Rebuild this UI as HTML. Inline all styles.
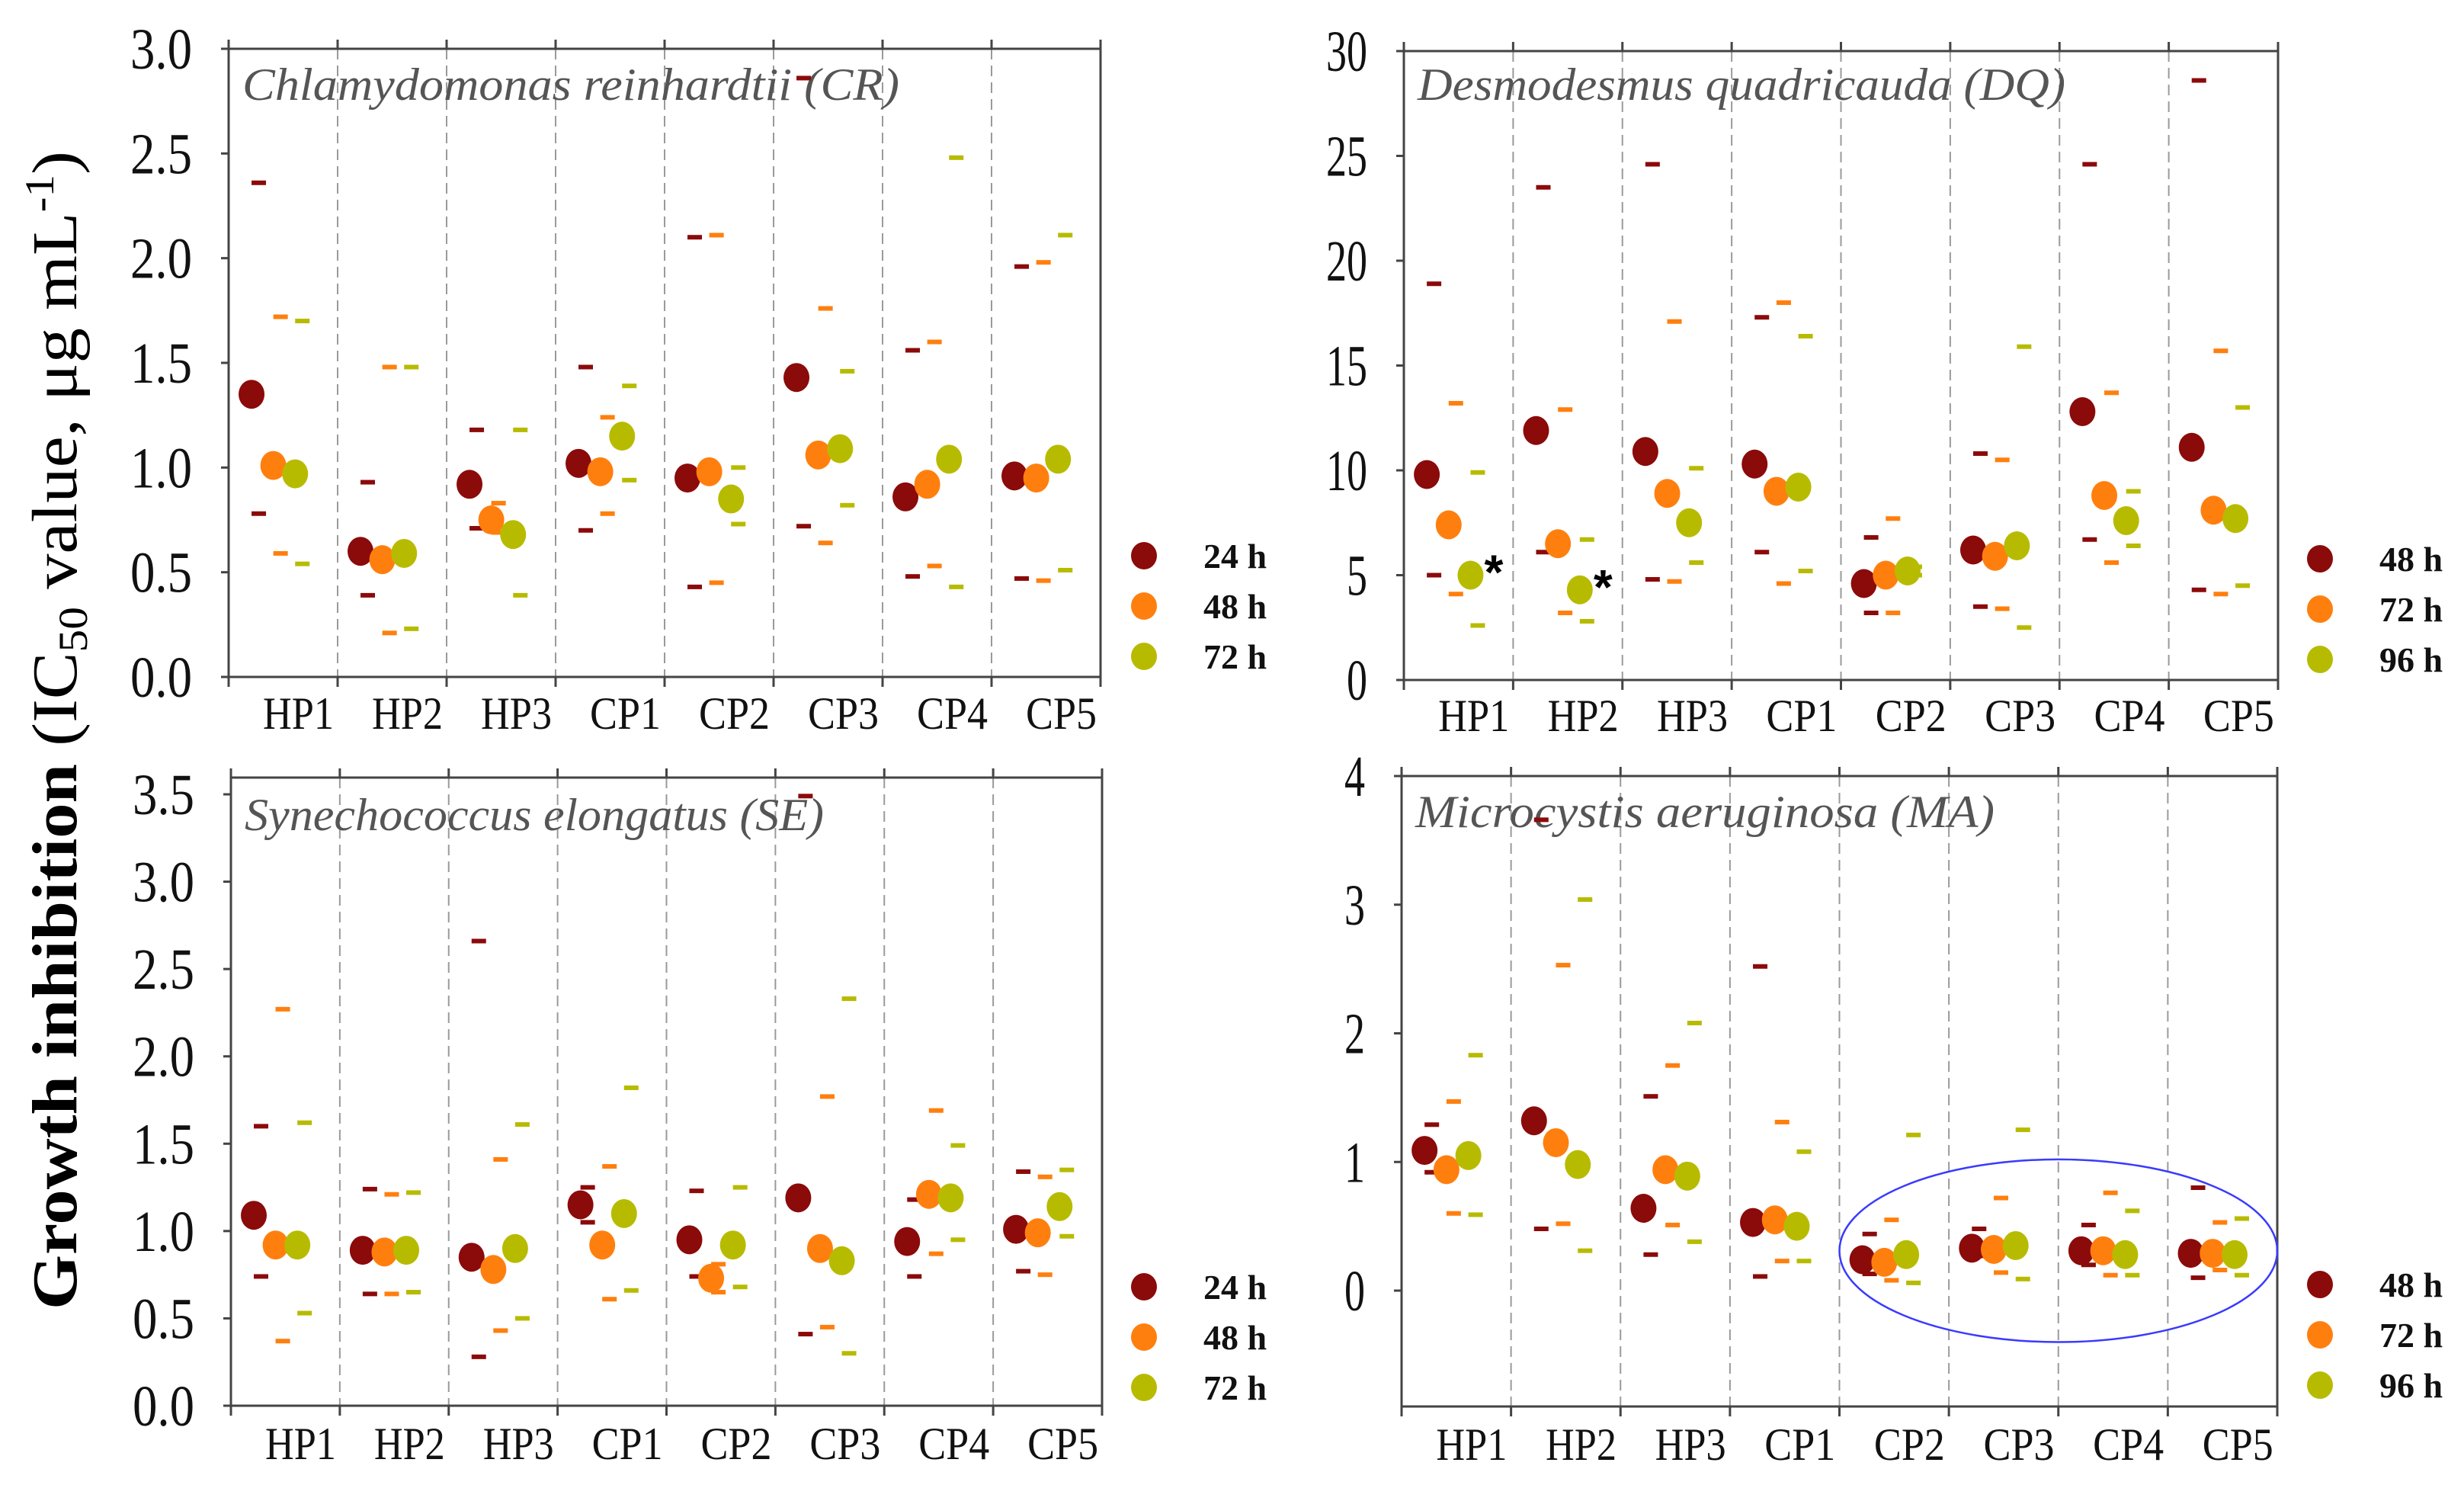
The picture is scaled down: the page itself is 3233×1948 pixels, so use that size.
<!DOCTYPE html>
<html><head><meta charset="utf-8"><style>
html,body{margin:0;padding:0;background:#fff;}
svg{display:block;}
</style></head><body>
<svg id="fig" xmlns="http://www.w3.org/2000/svg" width="3233" height="1948" viewBox="0 0 3233 1948">
<rect x="0" y="0" width="3233" height="1948" fill="#fff"/>
<text transform="translate(100,958) rotate(-90)" text-anchor="middle" font-family="Liberation Serif, serif" font-size="84" fill="#000" textLength="1520" lengthAdjust="spacingAndGlyphs"><tspan font-weight="bold">Growth inhibition </tspan><tspan>(IC</tspan><tspan font-size="54" dy="14">50</tspan><tspan dy="-14"> value, μg mL</tspan><tspan font-size="54" dy="-30">-1</tspan><tspan dy="30">)</tspan></text>
</svg>
<script>
const categories = ["HP1","HP2","HP3","CP1","CP2","CP3","CP4","CP5"];
// CR panel (24,48,72 h)
const crMean = [[1.35,0.60,0.92,1.02,0.95,1.43,0.86,0.96],[1.01,0.56,0.75,0.98,0.98,1.06,0.92,0.95],[0.97,0.59,0.68,1.15,0.85,1.09,1.04,1.04]];
const crHigh = [[2.36,0.93,1.18,1.48,2.10,2.86,1.56,1.96],[1.72,1.48,0.83,1.24,2.11,1.76,1.60,1.98],[1.70,1.48,1.18,1.39,1.00,1.46,2.48,2.11]];
const crLow  = [[0.78,0.39,0.71,0.70,0.43,0.72,0.48,0.47],[0.59,0.21,0.69,0.78,0.45,0.64,0.53,0.46],[0.54,0.23,0.39,0.94,0.73,0.82,0.43,0.51]];
const crTicks = ["0.0","0.5","1.0","1.5","2.0","2.5","3.0"];
const crLegend = ["24 h","48 h","72 h"];
// DQ panel (48,72,96 h)
const dqMean = [[9.8,11.9,10.9,10.3,4.6,6.2,12.8,11.1],[7.4,6.5,8.9,9.0,5.0,5.9,8.8,8.1],[5.0,4.3,7.5,9.2,5.2,6.4,7.6,7.7]];
const dqHigh = [[18.9,23.5,24.6,17.3,6.8,10.8,24.6,28.6],[13.2,12.9,17.1,18.0,7.7,10.5,13.7,15.7],[9.9,6.7,10.1,16.4,5.4,15.9,9.0,13.0]];
const dqLow  = [[5.0,6.1,4.8,6.1,3.2,3.5,6.7,4.3],[4.1,3.2,4.7,4.6,3.2,3.4,5.6,4.1],[2.6,2.8,5.6,5.2,5.0,2.5,6.4,4.5]];
const dqTicks = ["0","5","10","15","20","25","30"];
const dqLegend = ["48 h","72 h","96 h"];
// SE panel (24,48,72 h)
const seMean = [[1.09,0.89,0.85,1.15,0.95,1.19,0.94,1.01],[0.92,0.88,0.78,0.92,0.73,0.90,1.21,0.99],[0.92,0.89,0.90,1.10,0.92,0.83,1.19,1.14]];
const seHigh = [[1.60,1.24,2.66,1.25,1.23,3.49,1.18,1.34],[2.27,1.21,1.41,1.37,0.81,1.77,1.69,1.31],[1.62,1.22,1.61,1.82,1.25,2.33,1.49,1.35]];
const seLow  = [[0.74,0.64,0.28,1.05,0.74,0.41,0.74,0.77],[0.37,0.64,0.43,0.61,0.65,0.45,0.87,0.75],[0.53,0.65,0.50,0.66,0.68,0.30,0.95,0.97]];
const seTicks = ["0.0","0.5","1.0","1.5","2.0","2.5","3.0","3.5"];
const seLegend = ["24 h","48 h","72 h"];
// MA panel (48,72,96 h)
const maMean = [[1.09,1.32,0.64,0.53,0.24,0.33,0.31,0.29],[0.94,1.15,0.94,0.55,0.22,0.32,0.31,0.29],[1.05,0.98,0.89,0.50,0.28,0.35,0.28,0.28]];
const maHigh = [[1.29,3.66,1.51,2.52,0.44,0.48,0.51,0.80],[1.47,2.53,1.75,1.31,0.55,0.72,0.76,0.53],[1.83,3.04,2.08,1.08,1.21,1.25,0.62,0.56]];
const maLow  = [[0.92,0.48,0.28,0.11,0.13,0.27,0.20,0.10],[0.60,0.52,0.51,0.23,0.08,0.14,0.12,0.16],[0.59,0.31,0.38,0.23,0.06,0.09,0.12,0.12]];
const maTicks = ["0","1","2","3","4"];
const maLegend = ["48 h","72 h","96 h"];

const colors = ["#8b0a0a","#ff7f0e","#b7bb00"];
const NS = "http://www.w3.org/2000/svg";
const svg = document.getElementById("fig");
function mk(tag, attrs, parent){ const e=document.createElementNS(NS,tag); for(const k in attrs) e.setAttribute(k,attrs[k]); (parent||svg).appendChild(e); return e; }

function panel(cfg){
  const g = mk("g",{});
  
  
  const y = v => cfg.y0 - (v - 0) * (cfg.y0 - cfg.yTop) / cfg.vTop;
  const w = (cfg.right - cfg.left) / categories.length;
  const xs = i => cfg.left + i * w;
  for(let i=1;i<categories.length;i++){
    const d = mk("line",{x1:xs(i),x2:xs(i),y1:cfg.frameTop,y2:cfg.bottom,stroke:"#9a9a9a","stroke-width":2,"stroke-dasharray":"14,8"},g);
    
    
  }
  for(let i=0;i<=categories.length;i++){
    mk("line",{x1:xs(i),x2:xs(i),y1:cfg.bottom,y2:cfg.bottom+13,stroke:"#444","stroke-width":3},g);
    mk("line",{x1:xs(i),x2:xs(i),y1:cfg.frameTop-12,y2:cfg.frameTop,stroke:"#444","stroke-width":3},g);
  }
  const fr = mk("rect",{x:cfg.left,y:cfg.frameTop,width:cfg.right-cfg.left,height:cfg.bottom-cfg.frameTop,fill:"none",stroke:"#444","stroke-width":3},g);
  
  
  cfg.ticks.forEach((t,i)=>{
    const v = parseFloat(t);
    mk("line",{x1:cfg.left-10,x2:cfg.left,y1:y(v),y2:y(v),stroke:"#444","stroke-width":3},g);
    const tx = mk("text",{x:cfg.left-48,y:y(v)+26,"text-anchor":"end","font-family":"Liberation Serif, serif","font-size":76,fill:"#111",textLength:t.length*27,lengthAdjust:"spacingAndGlyphs"},g);
    tx.textContent = t;
    
    
  });
  categories.forEach((c,i)=>{
    const tx = mk("text",{x:xs(i)+0.64*w,y:cfg.labelY,"text-anchor":"middle","font-family":"Liberation Serif, serif","font-size":60,fill:"#111",textLength:93,lengthAdjust:"spacingAndGlyphs"},g);
    tx.textContent = c;
    
    
  });
  const st = mk("text",{x:cfg.left+18,y:cfg.titleY,"font-family":"Liberation Serif, serif","font-style":"italic","font-size":60,fill:"#555",textLength:cfg.titleLen,lengthAdjust:"spacingAndGlyphs"},g);
  st.textContent = cfg.title;
  
  
  if(cfg.ellipse){
    const el = mk("ellipse",{cx:xs(cfg.ellipse.cat),cy:y(cfg.ellipse.v),rx:cfg.ellipse.rxFrac*w,ry:cfg.ellipse.rv*(cfg.y0-cfg.yTop)/cfg.vTop,fill:"none",stroke:"#3a3aff","stroke-width":2.5},g);
    
    
  }
  const fr3 = [0.21,0.41,0.61];
  for(let s=0;s<3;s++){
    categories.forEach((c,i)=>{
      const cx = xs(i) + fr3[s]*w;
      [cfg.high[s][i], cfg.low[s][i]].forEach(v=>{
        const d = mk("rect",{x:cx,y:y(v)-3,width:19,height:6,fill:colors[s]},g);
        
        
      });
      const p = mk("ellipse",{cx:cx,cy:y(cfg.mean[s][i]),rx:17,ry:19,fill:colors[s]},g);
      
      
    });
  }
  (cfg.stars||[]).forEach(([s,i])=>{
    const cx = xs(i) + fr3[s]*w;
    const a = mk("text",{x:cx+18,y:y(cfg.mean[s][i])+18,"font-family":"Liberation Sans, sans-serif","font-size":64,"font-weight":"bold",fill:"#000"},g);
    a.textContent = "*";
    
    
  });
  cfg.legend.forEach((l,k)=>{
    const ly = cfg.legY + k*66;
    const c = mk("ellipse",{cx:cfg.legX,cy:ly,rx:17,ry:18,fill:colors[k]},g);
    
    
    const t = mk("text",{x:cfg.legX+78,y:ly+16,"font-family":"Liberation Serif, serif","font-weight":"bold","font-size":46,fill:"#111"},g);
    t.textContent = l;
    
    
  });
}

panel({name:"panel-cr",left:300,right:1444,frameTop:64,yTop:64,vTop:3,y0:888,bottom:888,ticks:crTicks,labelY:956,title:"Chlamydomonas reinhardtii (CR)",titleY:131,titleLen:862,mean:crMean,high:crHigh,low:crLow,legend:crLegend,legX:1501,legY:729});
panel({name:"panel-dq",left:1842,right:2989,frameTop:67,yTop:67,vTop:30,y0:892,bottom:892,ticks:dqTicks,labelY:959,title:"Desmodesmus quadricauda (DQ)",titleY:131,titleLen:850,mean:dqMean,high:dqHigh,low:dqLow,legend:dqLegend,legX:3044,legY:733,stars:[[2,0],[2,1]]});
panel({name:"panel-se",left:303,right:1446,frameTop:1020,yTop:1042,vTop:3.5,y0:1844,bottom:1844,ticks:seTicks,labelY:1914,title:"Synechococcus elongatus (SE)",titleY:1089,titleLen:760,mean:seMean,high:seHigh,low:seLow,legend:seLegend,legX:1501,legY:1688});
panel({name:"panel-ma",left:1839,right:2988,frameTop:1018,yTop:1018,vTop:4,y0:1693,bottom:1845,ticks:maTicks,labelY:1915,title:"Microcystis aeruginosa (MA)",titleY:1085,titleLen:760,mean:maMean,high:maHigh,low:maLow,legend:maLegend,legX:3044,legY:1685,ellipse:{cat:6,v:0.31,rxFrac:2.0,rv:0.71}});
</script>
</body></html>
